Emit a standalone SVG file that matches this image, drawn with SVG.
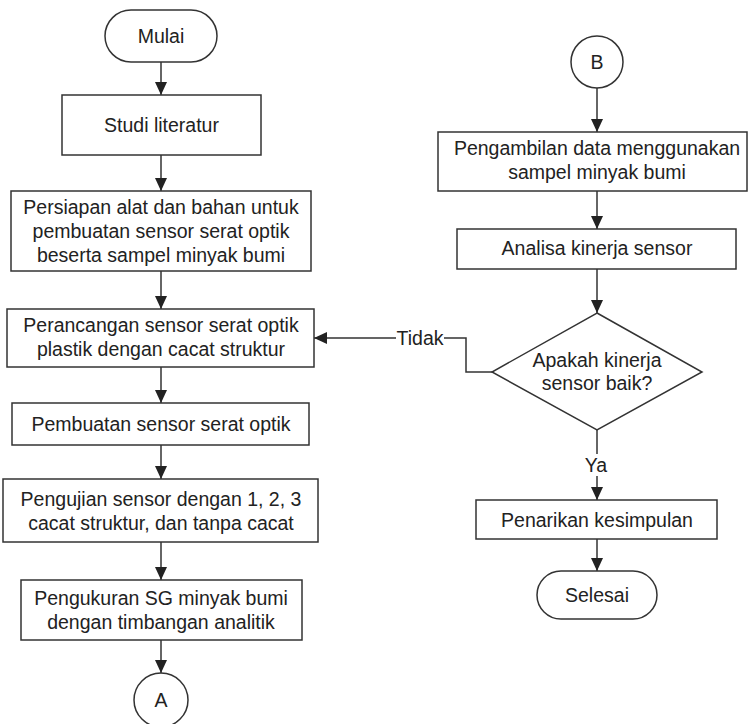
<svg xmlns="http://www.w3.org/2000/svg" width="748" height="724" viewBox="0 0 748 724">
<defs>
<style>
.box{fill:#fff;stroke:#333;stroke-width:1.5}
.t{font-family:"Liberation Sans",Arial,sans-serif;font-size:19.5px;fill:#222;text-anchor:middle}
.c{fill:none;stroke:#333;stroke-width:1.5}
.lbl{fill:#fff;stroke:none}
</style>
<marker id="ah" markerUnits="userSpaceOnUse" markerWidth="13" markerHeight="12" refX="13" refY="6" orient="auto">
<path d="M0,0 L13,6 L0,12 z" fill="#222"/>
</marker>
</defs>
<rect width="748" height="724" fill="#fff"/>
<g id="connectors">
<path class="c" d="M161,62 V95" marker-end="url(#ah)"/>
<path class="c" d="M161,155 V191" marker-end="url(#ah)"/>
<path class="c" d="M161,271 V309" marker-end="url(#ah)"/>
<path class="c" d="M161,367 V403" marker-end="url(#ah)"/>
<path class="c" d="M161,445 V479" marker-end="url(#ah)"/>
<path class="c" d="M161,542 V580" marker-end="url(#ah)"/>
<path class="c" d="M161,640 V673" marker-end="url(#ah)"/>
<path class="c" d="M597,88 V132" marker-end="url(#ah)"/>
<path class="c" d="M597,191 V229" marker-end="url(#ah)"/>
<path class="c" d="M597,269 V313" marker-end="url(#ah)"/>
<path class="c" d="M597,430 V500" marker-end="url(#ah)"/>
<path class="c" d="M597,539 V571" marker-end="url(#ah)"/>
<path class="c" d="M492,372 H466 V338 H314" marker-end="url(#ah)"/>
<rect class="lbl" x="396" y="326" width="48" height="24"/>
<text class="t" x="420" y="345">Tidak</text>
<rect class="lbl" x="583" y="454" width="28" height="22"/>
<text class="t" x="596" y="472">Ya</text>
</g>
<g id="mulai">
<rect class="box" x="105" y="10" width="112" height="52" rx="26"/>
<text class="t" x="161" y="43">Mulai</text>
</g>
<g id="studi">
<rect class="box" x="62" y="95" width="199" height="60"/>
<text class="t" x="161.5" y="132">Studi literatur</text>
</g>
<g id="persiapan">
<rect class="box" x="11" y="191" width="300" height="80"/>
<text class="t" x="161" y="214">Persiapan alat dan bahan untuk</text>
<text class="t" x="161" y="238">pembuatan sensor serat optik</text>
<text class="t" x="161" y="262">beserta sampel minyak bumi</text>
</g>
<g id="perancangan">
<rect class="box" x="7" y="309" width="307" height="58"/>
<text class="t" x="161" y="332">Perancangan sensor serat optik</text>
<text class="t" x="161" y="356">plastik dengan cacat struktur</text>
</g>
<g id="pembuatan">
<rect class="box" x="12" y="403" width="297" height="42"/>
<text class="t" x="161" y="431">Pembuatan sensor serat optik</text>
</g>
<g id="pengujian">
<rect class="box" x="3" y="479" width="315" height="63"/>
<text class="t" x="161" y="506">Pengujian sensor dengan 1, 2, 3</text>
<text class="t" x="161" y="530">cacat struktur, dan tanpa cacat</text>
</g>
<g id="pengukuran">
<rect class="box" x="21" y="580" width="281" height="60"/>
<text class="t" x="161" y="605">Pengukuran SG minyak bumi</text>
<text class="t" x="161" y="629">dengan timbangan analitik</text>
</g>
<g id="konektorA">
<circle class="box" cx="161" cy="700" r="27"/>
<text class="t" x="161" y="707">A</text>
</g>
<g id="konektorB">
<circle class="box" cx="597" cy="62" r="26"/>
<text class="t" x="597" y="69">B</text>
</g>
<g id="pengambilan">
<rect class="box" x="438" y="132" width="309" height="59"/>
<text class="t" x="597" y="155">Pengambilan data menggunakan</text>
<text class="t" x="597" y="179">sampel minyak bumi</text>
</g>
<g id="analisa">
<rect class="box" x="457" y="229" width="279" height="40"/>
<text class="t" x="597" y="255">Analisa kinerja sensor</text>
</g>
<g id="keputusan">
<polygon class="box" points="597,313 702,372 597,430 492,372"/>
<text class="t" x="597" y="367">Apakah kinerja</text>
<text class="t" x="597" y="390">sensor baik?</text>
</g>
<g id="penarikan">
<rect class="box" x="476" y="500" width="241" height="39"/>
<text class="t" x="597" y="527">Penarikan kesimpulan</text>
</g>
<g id="selesai">
<rect class="box" x="537" y="571" width="120" height="48" rx="24"/>
<text class="t" x="597" y="602">Selesai</text>
</g>
</svg>
